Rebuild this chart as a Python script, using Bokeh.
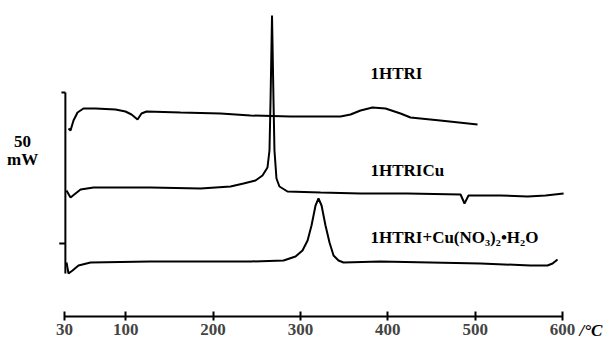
from bokeh.plotting import figure
from bokeh.models import FixedTicker, Range1d
from bokeh.embed import file_html
from bokeh.resources import INLINE
from bokeh.core.properties import value

# x: temperature (°C); y: heat-flow signal (arbitrary offset units)
t_htri = [34.6, 36.9, 40.3, 44.9, 51.7, 65.5, 88.4, 99.8, 106.7, 113.6, 118.1, 123.9,
          162.8, 208.6, 242.9, 288.7, 345.9, 357.4, 368.8, 382.5, 397.4, 414.6, 426.0,
          460.0, 502.7]
y_htri = [188, 186, 196, 204, 208, 208, 207, 205, 202, 197, 203, 205,
          204, 203, 201, 200, 200, 202, 206, 209, 208, 203, 199,
          196, 192]

t_cu = [32.3, 36.9, 42.6, 48.4, 63.2, 128.4, 185.7, 220.0, 234.9, 248.6, 256.6, 262.3,
        264.6, 265.8, 267.5, 269.2, 270.3, 272.6, 276.0, 285.2, 323.0, 368.8, 422.6,
        483.3, 487.8, 492.4, 529.0, 560.0, 580.6, 601.2]
y_cu = [126, 119, 123, 127, 129, 129, 128, 130, 133, 136, 141, 149,
        166, 216, 301, 216, 166, 138, 130, 125, 124, 123, 123,
        122, 113, 121, 121, 120, 121, 123]

t_no3 = [32.3, 34.6, 39.2, 46.0, 59.8, 128.4, 185.7, 242.9, 280.7, 294.4, 302.4, 308.2,
         312.7, 317.3, 320.7, 324.2, 328.7, 333.3, 337.9, 343.6, 349.3, 391.6, 506.1,
         563.3, 582.8, 588.6, 594.3]
y_no3 = [54, 43, 46, 51, 54, 55, 55, 55, 56, 60, 66, 76,
         91, 111, 118, 111, 91, 74, 61, 56, 54, 55, 53,
         51, 51, 53, 57]

scale_t = [31, 31]
scale_y = [224, 43]
scale_ticks_y = [224, 73]
scale_ticks_t0 = [26.5, 24.0]

x_ticks = [30, 100, 200, 300, 400, 500, 600]
labels = ["1HTRI", "1HTRICu", "1HTRI+Cu(NO\u2083)\u2082\u2022H\u2082O"]
label_t = [380.2, 380.2, 380.2]
label_y = [243, 146, 79]

p = figure(frame_width=608, frame_height=340, output_backend="svg", toolbar_location=None,
           x_range=Range1d(-43.25, 652.6), y_range=Range1d(-24, 316),
           min_border_left=0, min_border_right=0, min_border_top=0, min_border_bottom=0,
           y_axis_location=None)
p.grid.visible = False
p.outline_line_color = None

ax = p.xaxis[0]
ax.fixed_location = 0
ax.ticker = FixedTicker(ticks=x_ticks)
ax.bounds = (30, 600)
ax.axis_line_width = 2
ax.major_tick_line_width = 2
ax.major_tick_in = 5
ax.major_tick_out = 4
ax.minor_tick_line_color = None
ax.major_label_text_font = "Liberation Serif"
ax.major_label_text_font_style = "bold"
ax.major_label_text_font_size = "17px"
ax.major_label_standoff = 3

for t, y in [(t_htri, y_htri), (t_cu, y_cu), (t_no3, y_no3)]:
    p.line(t, y, line_color="black", line_width=2)

p.line(scale_t, scale_y, line_color="black", line_width=2)
p.segment(x0=scale_ticks_t0, y0=scale_ticks_y, x1=[31, 31], y1=scale_ticks_y,
          line_color="black", line_width=2)

p.text(x=label_t, y=label_y, text=labels, text_font=value("Liberation Serif"),
       text_font_style="bold", text_font_size="17px", text_baseline="middle",
       text_align="left", text_color="black")

p.text(x=[-18.0, -18.0], y=[175, 157], text=["50", "mW"], text_font=value("Liberation Serif"),
       text_font_style="bold", text_font_size="17px", text_baseline="middle",
       text_align="center", text_color="black")

p.text(x=[619.5], y=[-14], text=["/\u00b0C"], text_font=value("Liberation Serif"),
       text_font_style="bold italic", text_font_size="17px", text_baseline="middle",
       text_align="left", text_color="black")

open("out.html", "w").write(file_html(p, INLINE))
